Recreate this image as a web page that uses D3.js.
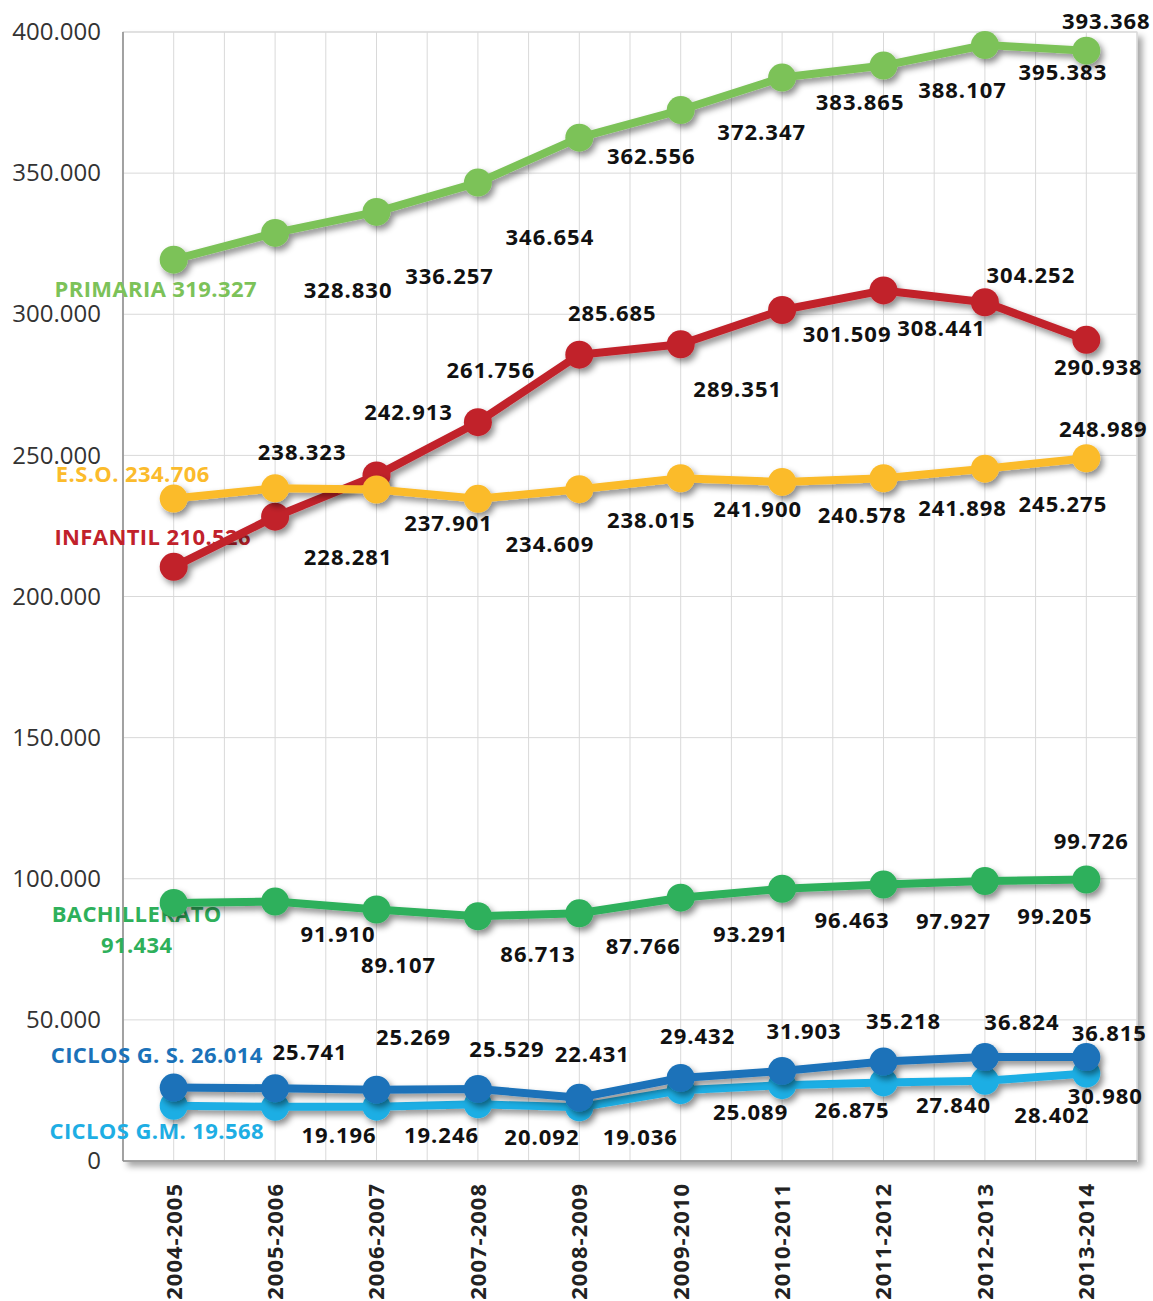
<!DOCTYPE html>
<html>
<head>
<meta charset="utf-8">
<script src="https://cdn.jsdelivr.net/npm/d3@7"></script>
<style>
  body { margin: 0; background: #fff; }
  .chart text { font-family: "Open Sans", sans-serif; }
</style>
</head>
<body>
<div class="chart"></div>
<script>
// chart data
var cursos = ["2004-2005", "2005-2006", "2006-2007", "2007-2008", "2008-2009",
              "2009-2010", "2010-2011", "2011-2012", "2012-2013", "2013-2014"];
var yTicks = [0, 50000, 100000, 150000, 200000, 250000, 300000, 350000, 400000];

var primaria     = [319327, 328830, 336257, 346654, 362556, 372347, 383865, 388107, 395383, 393368];
var infantil     = [210526, 228281, 242913, 261756, 285685, 289351, 301509, 308441, 304252, 290938];
var eso          = [234706, 238323, 237901, 234609, 238015, 241900, 240578, 241898, 245275, 248989];
var bachillerato = [91434, 91910, 89107, 86713, 87766, 93291, 96463, 97927, 99205, 99726];
var ciclosGS     = [26014, 25741, 25269, 25529, 22431, 29432, 31903, 35218, 36824, 36815];
var ciclosGM     = [19568, 19196, 19246, 20092, 19036, 25089, 26875, 27840, 28402, 30980];

// label offsets from each point (the picture puts them oddly)
var offPrimaria = [[-18, 30], [73, 57], [73, 64], [72, 55], [72, 19], [81, 22], [78, 25], [79, 25], [78, 27], [20, -29]];
var offInfantil = [[-21, -29], [73, 41], [32, -63], [13, -52], [33, -41], [57, 45], [65, 24], [58, 38], [46, -27], [12, 27]];
var offEso      = [[-41, -24], [27, -36], [72, 34], [72, 45], [72, 31], [77, 31], [80, 33], [79, 30], [78, 36], [17, -29]];
var offBach     = [[-37, 11], [63, 33], [22, 56], [60, 38], [64, 33], [70, 37], [70, 32], [70, 37], [70, 35], [5, -38]];
var offGS       = [[-17, -32], [35, -36], [37, -52], [29, -40], [13, -43], [17, -42], [22, -40], [20, -40], [37, -35], [23, -24]];
var offGM       = [[-17, 26], [64, 28], [65, 29], [64, 33], [61, 30], [70, 22], [70, 25], [70, 23], [67, 34], [19, 23]];

var series = [
  { name: "PRIMARIA ", values: primaria, off: offPrimaria, color: "#7cc259" },
  { name: "INFANTIL ", values: infantil, off: offInfantil, color: "#c1212b" },
  { name: "E.S.O. ", values: eso, off: offEso, color: "#fbbb2c" },
  { name: "BACHILLERATO", values: bachillerato, off: offBach, color: "#2eb05b", twoLines: true },
  { name: "CICLOS G.M. ", values: ciclosGM, off: offGM, color: "#1eaee4" },
  { name: "CICLOS G. S. ", values: ciclosGS, off: offGS, color: "#1b72b9" }
];

var svgWidth = 1153;
var svgHeight = 1301;
var margin = { top: 32, right: 16, bottom: 140, left: 123 };
var width = svgWidth - margin.left - margin.right;
var height = svgHeight - margin.top - margin.bottom;

var locale = d3.formatLocale({ decimal: ",", thousands: ".", grouping: [3], currency: ["", "€"] });
var fmt = locale.format(",d");

var svg = d3.select(".chart")
  .append("svg")
  .attr("width", svgWidth)
  .attr("height", svgHeight);

var defs = svg.append("defs");
defs.append("filter").attr("id", "boxShadow")
  .attr("x", "-5%").attr("y", "-5%").attr("width", "115%").attr("height", "115%")
  .append("feDropShadow")
  .attr("dx", 5).attr("dy", 5).attr("stdDeviation", 3)
  .attr("flood-color", "#000").attr("flood-opacity", 0.35);
defs.append("filter").attr("id", "lineShadow")
  .attr("x", "-10%").attr("y", "-50%").attr("width", "130%").attr("height", "300%")
  .append("feDropShadow")
  .attr("dx", 3).attr("dy", 4).attr("stdDeviation", 3)
  .attr("flood-color", "#000").attr("flood-opacity", 0.45);

var chartGroup = svg.append("g")
  .attr("transform", `translate(${margin.left}, ${margin.top})`);

var x = d3.scaleBand().domain(cursos).range([0, width]);
var y = d3.scaleLinear().domain([0, 400000]).range([height, 0]);
var bw = x.bandwidth();
var cx = d => x(d) + bw / 2;

// plot background with shadow
chartGroup.append("rect")
  .attr("width", width).attr("height", height)
  .attr("fill", "#fff")
  .attr("stroke", "#d4d4d4")
  .attr("filter", "url(#boxShadow)");

// vertical grid: band edges and centres
var vLines = [];
cursos.forEach(function(c) { vLines.push(x(c)); vLines.push(cx(c)); });
vLines.push(width);
chartGroup.selectAll(".vgrid").data(vLines).enter()
  .append("line")
  .attr("x1", d => d).attr("x2", d => d)
  .attr("y1", 0).attr("y2", height)
  .attr("stroke", "#d9d9d9").attr("stroke-width", 1);

chartGroup.selectAll(".hgrid").data(yTicks).enter()
  .append("line")
  .attr("x1", 0).attr("x2", width)
  .attr("y1", d => y(d)).attr("y2", d => y(d))
  .attr("stroke", "#d9d9d9").attr("stroke-width", 1);

// axes
var leftAxis = d3.axisLeft(y).tickValues(yTicks).tickSize(0).tickPadding(22).tickFormat(fmt);
var yAxisG = chartGroup.append("g").call(leftAxis);
yAxisG.select(".domain").remove();
yAxisG.selectAll("text")
  .attr("font-size", 24)
  .attr("fill", "#333")
  .style("font-family", "'Open Sans', sans-serif");

var bottomAxis = d3.axisBottom(x).tickSize(0);
var xAxisG = chartGroup.append("g")
  .attr("transform", `translate(0, ${height})`)
  .call(bottomAxis);
xAxisG.select(".domain").remove();
xAxisG.selectAll("text")
  .attr("transform", "rotate(-90)")
  .attr("x", -22)
  .attr("y", 0)
  .attr("dy", "0.36em")
  .attr("text-anchor", "end")
  .attr("font-size", 22)
  .attr("letter-spacing", 1)
  .attr("font-weight", "bold")
  .attr("fill", "#222")
  .style("font-family", "'Open Sans', sans-serif");

chartGroup.append("line")
  .attr("x1", 0).attr("x2", 0).attr("y1", 0).attr("y2", height)
  .attr("stroke", "#8c8c8c").attr("stroke-width", 1.5);
chartGroup.append("line")
  .attr("x1", 0).attr("x2", width).attr("y1", height).attr("y2", height)
  .attr("stroke", "#8c8c8c").attr("stroke-width", 1.5);

// data labels (under the lines, like the original)
var labelGroup = chartGroup.append("g");
series.forEach(function(s) {
  s.values.forEach(function(v, i) {
    var lx = cx(cursos[i]) + s.off[i][0];
    var ly = y(v) + s.off[i][1];
    var t = labelGroup.append("text")
      .attr("x", lx).attr("y", ly)
      .attr("dy", "0.35em")
      .attr("text-anchor", "middle")
      .attr("font-size", 22)
      .attr("letter-spacing", i === 0 ? 0.4 : 1)
      .attr("font-weight", "bold");
    if (i === 0) {
      t.attr("fill", s.color);
      if (s.twoLines) {
        t.append("tspan").attr("x", lx).text(s.name);
        t.append("tspan").attr("x", lx).attr("dy", 31).text(fmt(v));
      } else {
        t.text(s.name + fmt(v));
      }
    } else {
      t.attr("fill", "#111").text(fmt(v));
    }
  });
});

// lines and markers
var line = d3.line()
  .x((d, i) => cx(cursos[i]))
  .y(d => y(d));

series.forEach(function(s) {
  var g = chartGroup.append("g").attr("filter", "url(#lineShadow)");
  g.append("path")
    .datum(s.values)
    .attr("d", line)
    .attr("fill", "none")
    .attr("stroke", s.color)
    .attr("stroke-width", 8)
    .attr("stroke-linejoin", "round");
  g.selectAll("circle").data(s.values).enter()
    .append("circle")
    .attr("cx", (d, i) => cx(cursos[i]))
    .attr("cy", d => y(d))
    .attr("r", 14)
    .attr("fill", s.color);
});
</script>
</body>
</html>
